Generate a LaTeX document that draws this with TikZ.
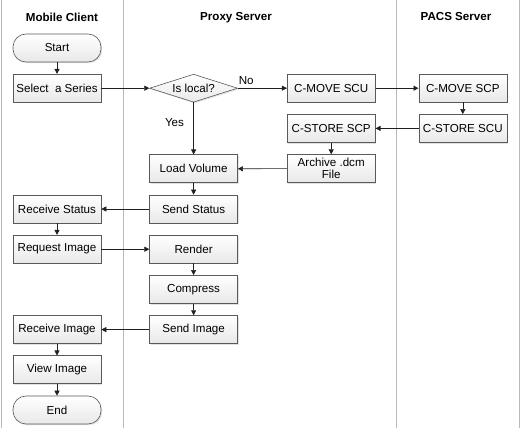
\documentclass[tikz,border=0pt]{standalone}
\usepackage{fontspec}
\setmainfont{Liberation Sans}
\usetikzlibrary{positioning}
\usetikzlibrary{shapes.geometric,shadows,arrows.meta}

\begin{document}
\begin{tikzpicture}[x=1pt, y=-1pt, node distance=11.6pt,
                    font=\fontsize{11.6}{12.5}\selectfont,
                    stepbox/.style={rectangle, draw=gray!70!black, semithick, top color=white, bottom color=gray!18,
                                    drop shadow={shadow xshift=1.2pt, shadow yshift=-1.2pt, fill=gray!45},
                                    minimum width=88pt, minimum height=28pt, inner sep=1pt, align=center},
                    termbox/.style={stepbox, rounded corners=13pt},
                    testbox/.style={stepbox, diamond, aspect=3.2, inner sep=0pt},
                    lane/.style={gray!55, line width=0.9pt},
                    flow/.style={-{Triangle[length=5pt,width=5pt]}, gray!25!black, semithick},
                    title/.style={font=\fontsize{11.6}{12.5}\selectfont\bfseries}
                   ]
\useasboundingbox (0,0) rectangle (520,430);
%Lanes
\draw[lane] (1,0) -- (1,428);
\draw[lane] (123,0) -- (123,428);
\draw[lane] (396,0) -- (396,428);
\draw[lane] (519,0) -- (519,428);
\node[title] (t1) at (62,17)  {Mobile Client};
\node[title] (t2) at (236,18) {Proxy Server};
\node[title] (t3) at (456,17) {PACS Server};
%Nodes
\node[termbox] (start)                          at (57,48) {Start};
\node[stepbox] (sel)       [below=of start]     {Select\ \ a Series};
\node[testbox] (local)     [right=48pt of sel]  {Is local?};
\node[stepbox] (cmovescu)  [right=49pt of local] {C-MOVE SCU};
\node[stepbox] (cmovescp)  [right=43pt of cmovescu] {C-MOVE SCP};
\node[stepbox] (cstorescu) [below=of cmovescp]  {C-STORE SCU};
\node[stepbox] (cstorescp) [below=of cmovescu]  {C-STORE SCP};
\node[stepbox] (archive)   [below=of cstorescp] {Archive .dcm\\File};
\node[stepbox] (load)      [below=52pt of local] {Load Volume};
\node[stepbox] (sendstat)  [below=of load]      {Send Status};
\node[stepbox] (recvstat)  [left=48pt of sendstat] {Receive Status};
\node[stepbox] (reqimg)    [below=of recvstat]  {Request Image};
\node[stepbox] (render)    [below=of sendstat]  {Render};
\node[stepbox] (compress)  [below=of render]    {Compress};
\node[stepbox] (sendimg)   [below=of compress]  {Send Image};
\node[stepbox] (recvimg)   [left=48pt of sendimg] {Receive Image};
\node[stepbox] (view)      [below=of recvimg]   {View Image};
\node[termbox] (end)       [below=of view]      {End};
% %Lines
\draw[flow] (start.south) -- (sel.north);
\draw[flow] (sel.east) -- (local.west);
\draw[flow] (local.east) -- node[above, pos=0.17, black] {No} (cmovescu.west);
\draw[flow] (local.south) -- node[left, pos=0.38, black, xshift=-6pt] {Yes} (load.north);
\draw[flow] (cmovescu.east) -- (cmovescp.west);
\draw[flow] (cmovescp.south) -- (cstorescu.north);
\draw[flow] (cstorescu.west) -- (cstorescp.east);
\draw[flow] (cstorescp.south) -- (archive.north);
\draw[flow] (archive.west) -- (load.east);
\draw[flow] (load.south) -- (sendstat.north);
\draw[flow] (sendstat.west) -- (recvstat.east);
\draw[flow] (recvstat.south) -- (reqimg.north);
\draw[flow] (reqimg.east) -- (render.west);
\draw[flow] (render.south) -- (compress.north);
\draw[flow] (compress.south) -- (sendimg.north);
\draw[flow] (sendimg.west) -- (recvimg.east);
\draw[flow] (recvimg.south) -- (view.north);
\draw[flow] (view.south) -- (end.north);
\end{tikzpicture}
\end{document}
